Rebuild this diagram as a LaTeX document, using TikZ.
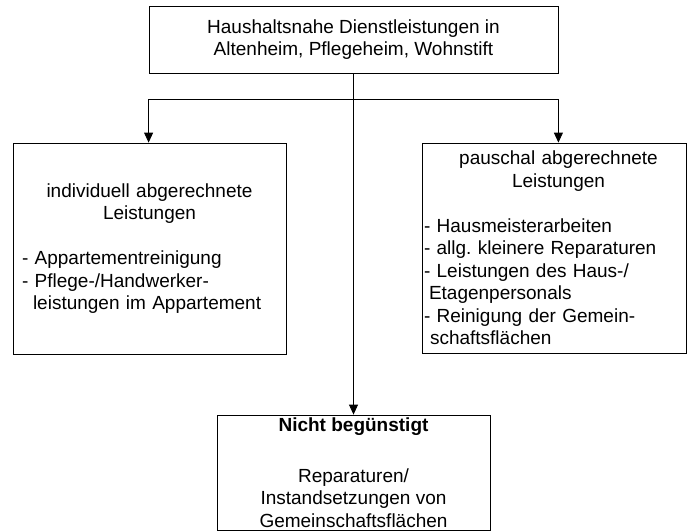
\documentclass[tikz,border=0pt]{standalone}
\usepackage{fontspec}
\setmainfont{Liberation Sans}
\usepackage{tikz}
\usetikzlibrary{arrows.meta}
\frenchspacing

\newcommand{\kopf}[1]{\makebox[\linewidth][c]{#1}}

\begin{document}
\begin{tikzpicture}[x=1pt,y=-1pt,
    kasten/.style={draw, line width=0.8pt, inner sep=0pt, font=\fontsize{19}{22.5}\selectfont},
    pfeil/.style={line width=0.8pt, -{Triangle[length=10pt,width=9pt]}}]
    \useasboundingbox (0,0) rectangle (687,531);
    \node [kasten, minimum width=409pt, minimum height=67pt, align=center] (haushalt) at (353.5,39.5)
      {Haushaltsnahe Dienstleistungen in\\Altenheim, Pflegeheim, Wohnstift};
    \node [kasten, minimum width=273pt, minimum height=211pt, text width=255pt, align=left] (individuell) at (149.5,248.5)
      {\kopf{individuell abgerechnete}\\\kopf{Leistungen}\\[22.5pt]
       - Appartementreinigung\\
       - Pflege-/Handwerker-\\
       \hspace*{11pt}leistungen im Appartement};
    \node [kasten, minimum width=264pt, minimum height=210pt, text width=260pt, align=left] (pauschal) at (554,248)
      {\kopf{\hspace*{9pt}pauschal abgerechnete}\\\kopf{\hspace*{9pt}Leistungen}\\[22.5pt]
       - Hausmeisterarbeiten\\
       - allg. kleinere Reparaturen\\
       - Leistungen des Haus-/\\
       \hspace*{5pt}Etagenpersonals\\
       - Reinigung der Gemein-\\
       \hspace*{6pt}schaftsfl\"achen};
    \node [kasten, minimum width=273pt, minimum height=115pt, align=center] (nicht) at (353.5,472.5)
      {\textbf{Nicht beg\"unstigt}\\[28.5pt]
       Reparaturen/\\Instandsetzungen von\\Gemeinschaftsfl\"achen};

    \coordinate (gabel) at (353.5,99);
    \draw [pfeil] (haushalt.south) -- (nicht.north);
    \draw [pfeil] (gabel) -| (haushalt.south west |- individuell.north);
    \draw [pfeil] (gabel) -| (haushalt.south east |- pauschal.north);
\end{tikzpicture}
\end{document}
